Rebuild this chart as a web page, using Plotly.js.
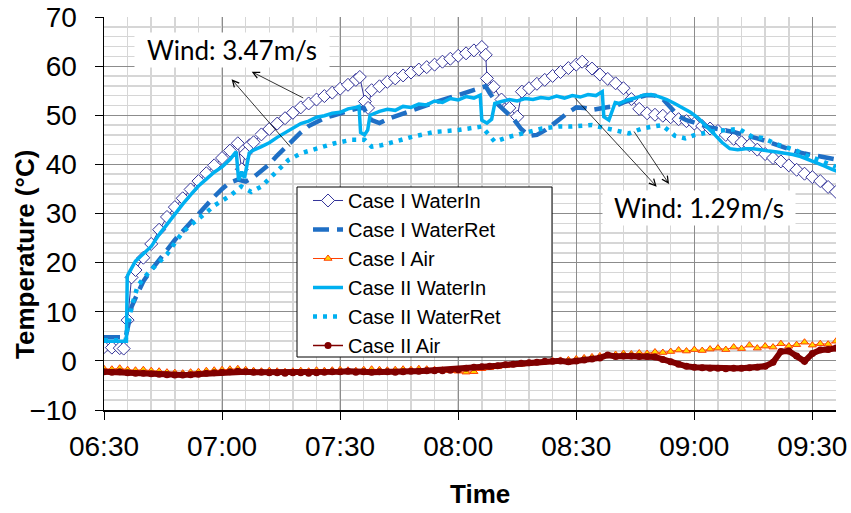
<!DOCTYPE html>
<html>
<head>
<meta charset="utf-8">
<script src="https://cdn.plot.ly/plotly-3.0.1.min.js"></script>
<style>html,body{margin:0;padding:0;background:#fff;}#chart{width:851px;height:513px;}</style>
</head>
<body>
<div id="chart"></div>
<script>
// ---- data: minutes elapsed after START, temperatures in °C ----
const START = '06:30';
const xTickLabels = ['06:30','07:00','07:30','08:00','08:30','09:00','09:30'];
const seriesNames = ['Case I WaterIn','Case I WaterRet','Case I Air','Case II WaterIn','Case II WaterRet','Case II Air'];

const c1In_t = [0,2,4,5,6,7,8,10,12,14,16,18,20,22,24,26,28,30,32,34,35,36,37,38,40,42,44,46,48,50,52,54,56,58,60,62,64,65,66.3,67.1,68,70,72,74,76,78,80,82,84,86,88,90,92,94,96,97,97.3,99,101,103,105,106.2,108,110,112,114,116,118,120,121.5,124,126,128,130,132,134,136,138,140,142,144,146,148,150,152,154,156,158,160,162,164,166,168,170,172,174,176,178,180,182,184,186];
const c1In_v = [2.8,2.7,2.6,2.5,8.3,17.0,18.5,21.0,23.8,26.7,29.3,31.3,33.1,34.9,36.6,38.2,39.8,41.3,42.8,44.3,39.0,42.3,43.9,44.5,46.1,47.2,48.3,49.4,50.5,51.6,52.4,53.2,53.9,54.6,55.4,56.2,57.2,57.8,52.8,51.5,55.1,55.9,56.8,57.5,58.1,58.7,59.3,59.8,60.3,60.9,61.5,62.1,62.6,63.2,63.9,62.3,57.5,55.8,53.2,51.5,49.7,54.8,55.5,56.4,57.2,58.0,58.8,59.6,60.3,60.9,59.5,58.3,57.4,56.5,55.5,53.3,51.3,50.4,50.1,49.9,49.6,49.2,48.8,48.3,47.8,47.3,46.8,46.0,45.2,44.5,43.9,43.0,42.1,41.3,40.6,39.8,38.9,38.1,37.4,36.6,35.4,34.4];

const c1Ret_t = [0,2,4,5.5,6.5,7,8,10,12,14,16,18,20,22,24,26,28,30,32,34,36,38,40,42,44,46,48,50,52,54,56,58,60,62,64,66,67,68,70,72,74,76,78,80,82,84,86,88,90,92,94,96,97,98,100,102,104,106,108,110,112,114,116,118,120,122,124,126,128,130,132,134,136,138,140,142,144,146,148,150,152,154,156,158,160,162,164,166,168,170,172,174,176,178,180,182,184,186];
const c1Ret_v = [4.8,4.8,4.8,4.8,8.5,11.0,12.8,16.2,18.5,20.6,22.5,24.6,26.4,28.2,30.0,31.8,33.4,35.0,36.3,36.9,36.5,37.4,38.6,40.0,41.8,43.4,45.0,46.5,47.8,48.7,49.4,49.9,50.4,50.9,51.3,51.5,50.0,49.0,48.4,49.2,49.8,50.3,50.9,51.4,52.0,52.6,53.1,53.6,54.2,54.6,55.1,55.6,55.9,54.5,52.3,50.8,49.3,47.2,45.8,46.0,46.9,48.1,49.4,50.6,51.6,51.5,51.1,51.3,51.6,51.9,52.6,53.2,53.7,54.1,54.0,53.3,51.5,49.8,49.0,48.4,48.0,47.5,47.2,47.0,46.6,46.1,45.8,45.3,44.8,44.2,43.6,43.0,42.6,42.2,41.9,41.6,41.3,41.0];

const air_t = [0,2,4,6,8,10,12,14,16,18,20,22,24,26,28,30,32,34,36,38,40,42,44,46,48,50,52,54,56,58,60,62,64,66,68,70,72,74,76,78,80,82,84,86,88,90,92,94,96,98,100,102,104,106,108,110,112,114,116,118,120,122,124,126,128,130,132,134,136,138,140,142,144,146,148,150,152,154,156,158,160,162,164,166,168,170,172,174,176,178,180,182,184,186];
const c1Air_v = [-1.6,-1.7,-1.5,-1.8,-1.9,-1.8,-2.0,-2.1,-2.3,-2.4,-2.5,-2.3,-2.2,-2.0,-1.9,-1.8,-1.7,-1.6,-1.8,-2.0,-2.1,-2.0,-2.1,-2.2,-2.1,-2.0,-2.1,-1.9,-2.0,-1.9,-1.8,-1.9,-2.0,-1.8,-1.7,-1.8,-1.9,-1.8,-1.7,-1.8,-1.6,-1.7,-1.8,-1.9,-2.0,-2.1,-2.3,-2.2,-1.6,-1.4,-1.2,-1.0,-0.8,-0.7,-0.5,-0.4,-0.2,0.0,0.1,0.2,0.4,0.6,0.8,1.0,1.1,1.3,1.5,1.4,1.6,1.5,1.8,1.7,1.9,2.2,2.0,2.3,2.1,2.4,2.6,2.3,2.8,2.5,3.2,2.6,3.0,2.8,3.5,3.0,3.3,3.8,3.2,3.5,3.4,4.0];

const c2In_t = [0,2,4,5.7,5.9,6,8,10,12,14,16,18,20,22,24,26,28,30,32,33.6,34.2,35,35.7,36.9,38,40,42,44,46,48,50,52,54,56,58,60,62,64,64.8,65.2,66.2,67,67.6,70,72,74,76,78,80,82,84,86,88,90,92,94,95.6,96,97.3,98.5,99.3,101,103,105,107,109,111,113,115,117,119,121,123,125,126.6,127,128.3,129.9,131,133,135,137,139,141,143,145,147,149,151,153,155,157,159,161,163,165,167,169,171,173,175,177,179,181,183,185,186.5];
const c2In_v = [4.0,4.0,4.0,4.0,17.0,17.4,20.3,21.8,23.3,25.7,27.8,29.8,31.9,33.8,35.6,37.0,38.4,39.5,41.0,42.6,36.8,38.5,37.2,42.3,42.9,43.6,44.4,45.5,46.5,47.5,48.3,48.8,49.6,49.9,50.4,50.6,51.3,51.6,51.8,46.5,46.0,47.0,50.0,50.8,51.2,51.0,51.8,51.6,52.3,52.1,52.9,52.6,53.4,53.1,53.8,53.5,54.1,49.0,48.4,49.2,52.4,52.8,53.2,52.9,53.4,53.2,53.6,53.4,53.9,53.5,54.0,53.7,54.2,54.0,54.8,49.7,49.0,52.6,52.4,53.1,53.5,54.1,54.2,53.8,53.2,52.4,51.5,50.6,49.4,47.9,46.2,44.5,43.2,43.0,43.2,43.2,42.9,42.7,42.5,42.3,42.0,41.6,41.0,40.4,39.7,39.0,38.5];

const c2Ret_t = [0,2,4,5.5,6.2,7,8.5,10,12,14,16,18,20,22,24,26,28,30,32,34.9,37.4,40,43.3,46.9,50.2,54.5,58.6,62.9,66.2,68,70.5,73.8,78.2,84,90.1,96,97.8,99.3,102.9,106.2,111.3,115.6,118.9,124,129.1,133.4,136.7,141.8,145.1,147.7,150.2,155.3,161.4,164.8,167.3,171.6,175.7,178.3,182,186];
const c2Ret_v = [4.2,4.2,4.2,4.2,8.0,11.0,15.1,16.8,18.5,20.0,21.7,24.0,26.2,27.6,28.8,30.2,31.6,32.6,33.6,35.5,34.4,35.5,38.2,40.9,42.3,43.3,44.3,45.0,45.0,43.6,43.9,44.6,45.6,46.6,47.0,47.7,46.0,44.6,45.6,46.3,47.3,47.7,47.7,48.0,47.0,46.3,47.3,48.0,45.8,45.3,46.0,46.8,47.2,45.6,45.4,43.9,42.9,41.9,40.8,39.5];

const c2Air_v = [-2.2,-2.3,-2.2,-2.4,-2.5,-2.5,-2.6,-2.7,-2.8,-2.9,-2.9,-2.8,-2.7,-2.5,-2.4,-2.3,-2.2,-2.1,-2.2,-2.3,-2.3,-2.4,-2.4,-2.5,-2.4,-2.4,-2.5,-2.4,-2.3,-2.2,-2.2,-2.1,-2.3,-2.2,-2.3,-2.2,-2.2,-2.3,-2.2,-2.1,-2.1,-2.0,-2.0,-2.0,-1.9,-1.8,-1.5,-1.3,-1.2,-1.1,-1.0,-0.8,-0.7,-0.5,-0.4,-0.3,-0.1,-0.1,0.0,-0.2,0.0,0.2,0.4,0.6,1.2,0.9,1.0,1.0,0.9,0.9,0.8,0.3,-0.2,-0.7,-1.1,-1.3,-1.4,-1.5,-1.5,-1.6,-1.5,-1.5,-1.4,-1.3,-1.1,-0.3,1.9,2.0,1.0,-0.1,1.5,2.2,2.3,2.6];

const X_END_MIN = 186;   // axis ends at 09:36

// ---- helpers ----
const [sh, sm] = START.split(':').map(Number);
function pad(n){ return String(n).padStart(2,'0'); }
function toDate(m){
  const s = Math.round((sh*60 + sm + m) * 60);
  return '2000-01-01 ' + pad(Math.floor(s/3600)) + ':' + pad(Math.floor((s%3600)/60)) + ':' + pad(s%60);
}
const X = arr => arr.map(toDate);

const traces = [
  {name: seriesNames[0], x: X(c1In_t), y: c1In_v, mode: 'lines+markers',
   line: {color: '#333399', width: 1},
   marker: {symbol: 'diamond', size: 10, color: '#ffffff', line: {color: '#333399', width: 1}}},
  {name: seriesNames[1], x: X(c1Ret_t), y: c1Ret_v, mode: 'lines',
   line: {color: '#1F6FC5', width: 4.5, dash: '16px,8px'}},
  {name: seriesNames[2], x: X(air_t), y: c1Air_v, mode: 'lines+markers',
   line: {color: '#FF4000', width: 1},
   marker: {symbol: 'triangle-up', size: 7, color: '#FFD700', line: {color: '#FF4000', width: 1}}},
  {name: seriesNames[3], x: X(c2In_t), y: c2In_v, mode: 'lines',
   line: {color: '#00B0F0', width: 3.5}},
  {name: seriesNames[4], x: X(c2Ret_t), y: c2Ret_v, mode: 'lines',
   line: {color: '#00B0F0', width: 4.5, dash: '4px,6px'}},
  // thick body of the dense Case II Air marker band (no legend entry)
  {name: seriesNames[5], x: X(air_t), y: c2Air_v, mode: 'lines', showlegend: false,
   line: {color: '#800000', width: 6}},
  {name: seriesNames[5], x: X(air_t), y: c2Air_v, mode: 'lines+markers',
   line: {color: '#800000', width: 1.5},
   marker: {symbol: 'circle', size: 7, color: '#800000'}}
];

const tickVals = xTickLabels.map(l => '2000-01-01 ' + l + ':00');

const axisCommon = {
  showline: true, linecolor: '#000', linewidth: 1.5,
  ticks: 'outside', ticklen: 8, tickcolor: '#000', tickwidth: 1,
  showgrid: true, gridcolor: '#8c8c8c', gridwidth: 1,
  zeroline: false, tickfont: {size: 28, color: '#000'}
};

const layout = {
  width: 851, height: 513,
  margin: {l: 104, r: 15, t: 17, b: 103},
  paper_bgcolor: '#fff', plot_bgcolor: '#fff',
  font: {family: 'Liberation Sans, Arial, sans-serif', color: '#000'},
  showlegend: true,
  xaxis: Object.assign({}, axisCommon, {
    type: 'date', range: [toDate(0), toDate(X_END_MIN)],
    tickvals: tickVals, ticktext: xTickLabels,
    minor: {dtick: 360000, tick0: toDate(0), showgrid: true, gridcolor: '#d6d6d6', gridwidth: 1.5, ticks: ''},
    ticklabelstandoff: 3
  }),
  yaxis: Object.assign({}, axisCommon, {
    range: [-10, 70], dtick: 10, tick0: 0,
    minor: {dtick: 2, showgrid: true, gridcolor: '#d6d6d6', gridwidth: 1.5, ticks: ''},
    ticklabelstandoff: 12
  }),
  legend: {
    x: 0.2787, y: 0.5827, xanchor: 'left', yanchor: 'top',
    bgcolor: 'rgba(0,0,0,0)', borderwidth: 0,
    font: {size: 20, color: '#000'}, tracegroupgap: 0
  },
  shapes: [
    // legend frame
    {type: 'rect', xref: 'paper', yref: 'paper', layer: 'above',
     x0: (297-104)/732, x1: (552-104)/732, y0: (410-357)/393, y1: (410-187)/393,
     fillcolor: '#fff', line: {color: '#000', width: 1}}
  ],
  annotations: [
    {text: 'Temperature (°C)', xref: 'paper', yref: 'paper', x: -0.108, y: 0.397,
     textangle: -90, showarrow: false, xanchor: 'center', yanchor: 'middle',
     font: {size: 26, weight: 'bold', color: '#000'}},
    {text: 'Time', xref: 'paper', yref: 'paper', x: 0.514, y: -0.2137,
     showarrow: false, xanchor: 'center', yanchor: 'middle',
     font: {size: 26, weight: 'bold', color: '#000'}},
    // arrows (tail on curve, head near label)
    {text: '', xref: 'paper', yref: 'paper', x: 0.2018, y: 0.8608, ax: 53, ay: 27,
     showarrow: true, arrowhead: 5, arrowsize: 1.6, arrowwidth: 0.8, arrowcolor: '#000', standoff: 0},
    {text: '', xref: 'paper', yref: 'paper', x: 0.1743, y: 0.8415, ax: 60, ay: 69,
     showarrow: true, arrowhead: 5, arrowsize: 1.6, arrowwidth: 0.8, arrowcolor: '#000', standoff: 0},
    {text: '', xref: 'paper', yref: 'paper', x: 0.7550, y: 0.5682, ax: -83, ay: -90,
     showarrow: true, arrowhead: 5, arrowsize: 1.6, arrowwidth: 0.8, arrowcolor: '#000', standoff: 0},
    {text: '', xref: 'paper', yref: 'paper', x: 0.7719, y: 0.5751, ax: -36, ay: -54,
     showarrow: true, arrowhead: 5, arrowsize: 1.6, arrowwidth: 0.8, arrowcolor: '#000', standoff: 0},
    {text: 'Wind: 3.47m/s', xref: 'paper', yref: 'paper', x: 0.1749, y: 0.916,
     showarrow: false, xanchor: 'center', yanchor: 'middle', bgcolor: '#fff',
     width: 192, height: 32, borderpad: 1,
     font: {family: 'Lato, Liberation Sans, sans-serif', size: 26, color: '#000'}},
    {text: 'Wind: 1.29m/s', xref: 'paper', yref: 'paper', x: 0.8122, y: 0.514,
     showarrow: false, xanchor: 'center', yanchor: 'middle', bgcolor: '#fff',
     width: 190, height: 32, borderpad: 1,
     font: {family: 'Lato, Liberation Sans, sans-serif', size: 26, color: '#000'}}
  ]
};

Plotly.newPlot('chart', traces, layout, {staticPlot: true, displayModeBar: false});
</script>
</body>
</html>
